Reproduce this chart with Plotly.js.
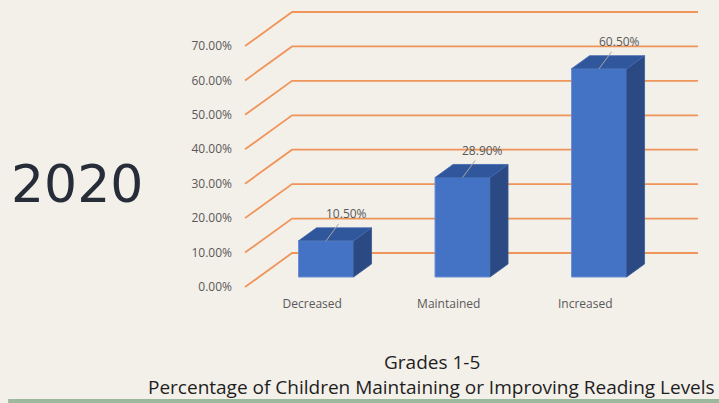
<!DOCTYPE html>
<html>
<head>
<meta charset="utf-8">
<script src="https://cdn.plot.ly/plotly-3.0.1.min.js"></script>
<style>html,body{margin:0;padding:0;background:#f3efe9;}#chart{width:719px;height:403px;}</style>
</head>
<body>
<div id="chart"></div>
<script>
// ---- data ----
const categories = ["Decreased", "Maintained", "Increased"];
const values = [10.5, 28.9, 60.5];
const dataLabels = ["10.50%", "28.90%", "60.50%"];
const tickValues = [0, 10, 20, 30, 40, 50, 60, 70];
const tickLabels = ["0.00%", "10.00%", "20.00%", "30.00%", "40.00%", "50.00%", "60.00%", "70.00%"];
const yearLabel = "2020";
const titleLine1 = "Grades 1-5";
const titleLine2 = "Percentage of Children Maintaining or Improving Reading Levels";

// ---- oblique 3D projection settings (axis units) ----
const depthX = 0.3443;   // x shift for full floor depth
const depthY = 9.875;    // y shift for full floor depth
const barFront = 0.294;  // bar front depth fraction
const barBack = 0.677;   // bar back depth fraction
const barWidth = 0.403;
const gridLeft = -0.492;
const gridRight = 2.826;

const traces = [];
const annotations = [];
const xs = categories.map((c, i) => i + depthX * barFront);
const base = depthY * barFront;
const ddx = depthX * (barBack - barFront);
const ddy = depthY * (barBack - barFront);

// front faces
traces.push({
  type: "bar",
  x: xs,
  y: values,
  base: categories.map(() => base),
  width: barWidth,
  marker: { color: "#4472c4", line: { color: "#6b90d3", width: 1 } },
  hoverinfo: "skip",
  showlegend: false
});

values.forEach((v, i) => {
  const xl = xs[i] - barWidth / 2, xr = xs[i] + barWidth / 2;
  const b = base, t = base + v;
  // side face
  traces.push({
    type: "scatter", mode: "lines", fill: "toself",
    x: [xr, xr + ddx, xr + ddx, xr, xr],
    y: [b, b + ddy, t + ddy, t, b],
    fillcolor: "#2b4a83", line: { color: "#3a5a95", width: 0.8 },
    hoverinfo: "skip", showlegend: false
  });
  // top face
  traces.push({
    type: "scatter", mode: "lines", fill: "toself",
    x: [xl, xr, xr + ddx, xl + ddx, xl],
    y: [t, t, t + ddy, t + ddy, t],
    fillcolor: "#30569c", line: { color: "#4068ad", width: 0.8 },
    hoverinfo: "skip", showlegend: false
  });
  annotations.push({
    x: xs[i], y: t, xref: "x", yref: "y",
    text: dataLabels[i], showarrow: true, arrowhead: 0, arrowwidth: 1,
    arrowcolor: "#a8a8a8", ax: 20, ay: -27,
    xanchor: "center", yanchor: "middle",
    font: { family: "Open Sans", size: 12, color: "#595959" }
  });
});

// gridlines (front diagonal + back wall)
const shapes = tickValues.map(v => ({
  type: "path", xref: "x", yref: "y", layer: "below",
  path: `M ${gridLeft},${v} L ${gridLeft + depthX},${v + depthY} L ${gridRight},${v + depthY}`,
  line: { color: "#f0955a", width: 1.8 }
}));
// bottom green band
shapes.push({
  type: "rect", xref: "paper", yref: "paper",
  x0: -0.484, x1: 1, y0: -0.366, y1: -0.3525,
  fillcolor: "#9cb89d", line: { width: 0 }
});

annotations.push({
  xref: "paper", yref: "paper", x: -0.340, y: 0.376, showarrow: false,
  xanchor: "center", yanchor: "middle",
  text: yearLabel, font: { family: "DejaVu Sans", size: 52, color: "#262d38" }
});
annotations.push({
  xref: "paper", yref: "paper", x: 0.4008, y: -0.2271, showarrow: false,
  xanchor: "center", yanchor: "middle",
  text: titleLine1, font: { family: "Open Sans", size: 19, color: "#1e1e1e" }
});
annotations.push({
  xref: "paper", yref: "paper", x: 0.4008, y: -0.3119, showarrow: false,
  xanchor: "center", yanchor: "middle",
  text: titleLine2, font: { family: "Open Sans", size: 19, color: "#1e1e1e" }
});

const layout = {
  width: 719, height: 403,
  margin: { l: 240, r: 0, t: 0, b: 108 },
  paper_bgcolor: "#f3efe9", plot_bgcolor: "#f3efe9",
  showlegend: false,
  xaxis: {
    range: [-0.529, 2.980], showgrid: false, zeroline: false, showline: false,
    tickmode: "array", tickvals: categories.map((c, i) => i), ticktext: categories,
    tickfont: { family: "Open Sans", size: 12, color: "#595959" }, fixedrange: true
  },
  yaxis: {
    range: [-2.324, 83.36], showgrid: false, zeroline: false, showline: false,
    tickmode: "array", tickvals: tickValues, ticktext: tickLabels,
    ticklabelstandoff: 7,
    tickfont: { family: "Open Sans", size: 12, color: "#595959" }, fixedrange: true
  },
  shapes: shapes,
  annotations: annotations
};

Plotly.newPlot("chart", traces, layout, { displayModeBar: false, staticPlot: true });
</script>
</body>
</html>
